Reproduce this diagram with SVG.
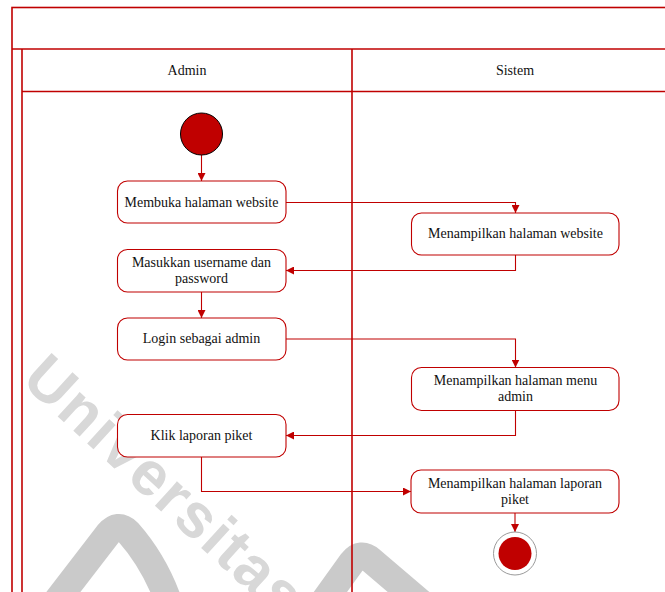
<svg xmlns="http://www.w3.org/2000/svg" width="665" height="592" viewBox="0 0 665 592">
  <style>
    .frame { fill: none; stroke: #c00000; stroke-width: 1.6; }
    .box { fill: #ffffff; stroke: #c00000; stroke-width: 1.1; }
    .lbl { font-family: "Liberation Serif", "Times New Roman", serif; font-size: 14px; fill: #111111; text-anchor: middle; }
    .edge { fill: none; stroke: #c00000; stroke-width: 1.1; }
    .wm { font-family: "Liberation Sans", Arial, sans-serif; font-weight: bold; font-size: 62px; fill: #d8d8d8; }
    .wmshape { fill: none; stroke: #cacaca; stroke-width: 27; stroke-linejoin: round; }
  </style>
  <defs>
    <marker id="arrow" viewBox="0 0 10 10" refX="10" refY="5" markerWidth="8" markerHeight="8" markerUnits="userSpaceOnUse" orient="auto">
      <path d="M0,0 L10,5 L0,10 z" fill="#c00000"/>
    </marker>
  </defs>

  <rect width="665" height="592" fill="#ffffff"/>

  <!-- background watermark -->
  <g id="watermark">
    <text class="wm" letter-spacing="2" transform="translate(20,382) rotate(42.5)">Universitas</text>
    <path class="wmshape" d="M48,612 L108,534 Q118,522 128,532 Q158,566 172,612"/>
    <path class="wmshape" d="M316,612 L352,562 Q361,551 371,560 L432,612"/>
  </g>

  <!-- swimlane frame -->
  <g id="lanes">
    <rect class="frame" x="12" y="7.5" width="700" height="620"/>
    <line class="frame" x1="12" y1="49" x2="665" y2="49"/>
    <line class="frame" x1="22" y1="49" x2="22" y2="600"/>
    <line class="frame" x1="22" y1="91.5" x2="665" y2="91.5"/>
    <line class="frame" x1="352" y1="49" x2="352" y2="600"/>
    <text class="lbl" x="187" y="75">Admin</text>
    <text class="lbl" x="515" y="75">Sistem</text>
  </g>

  <!-- connectors -->
  <g id="connectors">
    <path class="edge" d="M201.5,155 L201.5,181" marker-end="url(#arrow)"/>
    <path class="edge" d="M286,202.5 L515.5,202.5 L515.5,213" marker-end="url(#arrow)"/>
    <path class="edge" d="M515.5,255 L515.5,270.5 L286,270.5" marker-end="url(#arrow)"/>
    <path class="edge" d="M201.5,292 L201.5,318" marker-end="url(#arrow)"/>
    <path class="edge" d="M286,339 L515.5,339 L515.5,367.5" marker-end="url(#arrow)"/>
    <path class="edge" d="M515.5,410.5 L515.5,435.5 L286,435.5" marker-end="url(#arrow)"/>
    <path class="edge" d="M201.5,457 L201.5,491.5 L411,491.5" marker-end="url(#arrow)"/>
    <path class="edge" d="M515,513 L515,532" marker-end="url(#arrow)"/>
  </g>

  <!-- nodes -->
  <g id="start">
    <circle cx="201.5" cy="134" r="21" fill="#c00000" stroke="#000000" stroke-width="1"/>
  </g>
  <g id="buka-website">
    <rect class="box" x="117.5" y="181" width="168.5" height="42" rx="10"/>
    <text class="lbl" x="201.5" y="206.5">Membuka halaman website</text>
  </g>
  <g id="tampil-website">
    <rect class="box" x="411.5" y="213" width="207.5" height="42" rx="10"/>
    <text class="lbl" x="515.5" y="238">Menampilkan halaman website</text>
  </g>
  <g id="masukkan-login">
    <rect class="box" x="117.5" y="249.5" width="168.5" height="42.5" rx="10"/>
    <text class="lbl" x="201.5" y="266.5">Masukkan username dan</text>
    <text class="lbl" x="201.5" y="282.5">password</text>
  </g>
  <g id="login-admin">
    <rect class="box" x="117.5" y="318" width="168.5" height="42" rx="10"/>
    <text class="lbl" x="201.5" y="343">Login sebagai admin</text>
  </g>
  <g id="tampil-menu">
    <rect class="box" x="411.5" y="367.5" width="207.5" height="43" rx="10"/>
    <text class="lbl" x="515.5" y="385">Menampilkan halaman menu</text>
    <text class="lbl" x="515.5" y="401">admin</text>
  </g>
  <g id="klik-laporan">
    <rect class="box" x="117.5" y="414.5" width="168.5" height="42.5" rx="10"/>
    <text class="lbl" x="201.5" y="440">Klik laporan piket</text>
  </g>
  <g id="tampil-laporan">
    <rect class="box" x="411" y="470" width="208" height="43" rx="10"/>
    <text class="lbl" x="515" y="487.5">Menampilkan halaman laporan</text>
    <text class="lbl" x="515" y="503.5">piket</text>
  </g>
  <g id="end">
    <circle cx="515" cy="553.5" r="21.5" fill="#ffffff" stroke="#9a9a9a" stroke-width="1"/>
    <circle cx="515" cy="553.5" r="16.5" fill="#c00000"/>
  </g>
</svg>
